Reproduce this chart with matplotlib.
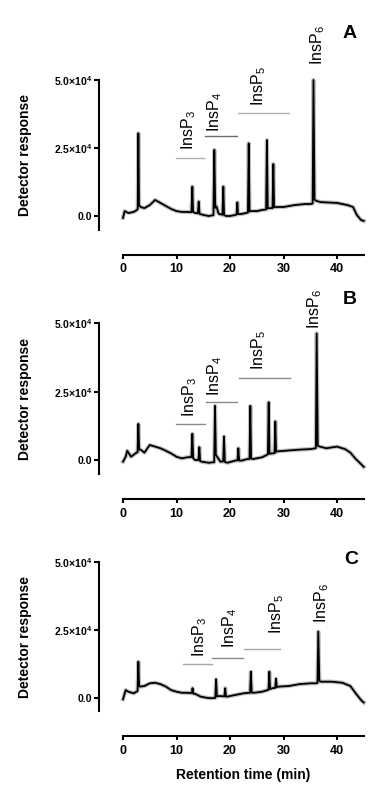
import numpy as np
import matplotlib
matplotlib.use("Agg")
import matplotlib.pyplot as plt

plt.rcParams['font.family'] = ['Liberation Sans', 'DejaVu Sans']
plt.rcParams['mathtext.default'] = 'regular'

# --- chromatogram traces (time in min, detector response) ---
time_a = [0.0, 0.3, 1.0, 2.0, 2.6, 2.75, 2.87, 3.0, 3.3, 4.0, 5.0, 6.0, 7.0, 8.0, 9.0, 10.0,
          11.0, 12.0, 12.8, 12.96, 13.1, 13.5, 14.0, 14.15, 14.3, 15.0, 16.0, 16.9, 17.07,
          17.25, 17.5, 17.8, 18.0, 18.6, 18.75, 18.9, 19.3, 20.0, 21.0, 21.22, 21.37, 21.5,
          22.0, 23.0, 23.35, 23.5, 23.65, 24.0, 25.0, 26.0, 26.75, 26.9, 27.05, 27.5, 27.95,
          28.1, 28.25, 28.6, 30.0, 32.0, 34.0, 35.0, 35.45, 35.6, 35.8, 36.2, 37.0, 40.0,
          42.0, 43.0, 43.7, 44.5, 45.0]
resp_a = [-700, 1800, 1100, 1500, 2200, 2600, 30400, 4000, 3300, 2900, 4000, 5900, 4800, 3700,
          2600, 1800, 1500, 1500, 1400, 10800, 1500, 1100, 1000, 5300, 800, 400, 0, 300, 24300,
          3000, 3500, 1200, 700, 500, 10800, 300, 0, 0, 400, 500, 5000, 700, 700, 1100, 1300,
          26700, 1700, 1800, 1800, 2200, 2400, 27900, 2800, 2900, 2900, 19100, 3200, 3300, 3300,
          4000, 4400, 4400, 4600, 50000, 6000, 5500, 5100, 4800, 4000, 3300, 400, -1500, -1800]

time_b = [0.0, 0.5, 0.8, 1.5, 2.5, 2.72, 2.87, 3.02, 3.3, 4.0, 5.0, 6.0, 7.0, 8.0, 9.0, 10.0,
          11.0, 12.0, 12.8, 12.96, 13.12, 13.5, 14.1, 14.27, 14.42, 14.7, 16.0, 17.05, 17.2,
          17.35, 17.6, 18.2, 18.73, 18.88, 19.03, 19.5, 21.0, 21.41, 21.56, 21.71, 22.2, 23.3,
          23.65, 23.8, 23.95, 24.4, 26.0, 27.0, 27.08, 27.23, 27.38, 27.8, 28.32, 28.47, 28.62,
          29.0, 31.0, 33.0, 35.0, 36.0, 36.05, 36.2, 36.4, 36.8, 38.0, 40.0, 41.5, 42.5, 43.5,
          44.5, 45.0]
resp_b = [-600, 1200, 3400, 1200, 2700, 2800, 13200, 3800, 3800, 2700, 5500, 4900, 4300, 3400,
          2400, 1200, 600, 1000, 1100, 9600, 600, 0, 0, 4700, -400, -600, -1000, -800, 19800,
          2000, 1200, -600, -500, 8600, -700, -1000, -200, -100, 4300, -200, -200, 400, 400,
          19800, 500, 400, 1000, 2000, 2100, 21100, 2300, 2400, 2500, 14100, 3000, 3200, 3500,
          3800, 4000, 4300, 4400, 46300, 5200, 4900, 4300, 4900, 4000, 2700, 400, -1500, -2500]

time_c = [0.0, 0.5, 1.0, 2.0, 2.5, 2.72, 2.87, 3.02, 3.3, 4.0, 5.0, 6.0, 7.0, 8.0, 9.0, 10.0,
          11.0, 12.0, 12.85, 13.0, 13.15, 13.5, 14.5, 15.5, 16.5, 17.25, 17.4, 17.55, 18.0,
          18.95, 19.1, 19.25, 19.5, 21.0, 22.5, 23.5, 23.75, 23.9, 24.05, 24.5, 26.0, 27.0,
          27.2, 27.35, 27.5, 27.9, 28.45, 28.6, 28.75, 29.2, 31.0, 33.0, 35.0, 36.0, 36.35,
          36.5, 36.7, 37.0, 39.0, 41.0, 42.5, 43.5, 44.5, 45.0]
resp_c = [-600, 2800, 2200, 1600, 2200, 2400, 13300, 4200, 4100, 4300, 5300, 5500, 5000, 4100,
          2800, 2200, 1800, 1800, 1700, 3500, 1500, 1400, 400, 0, -200, -100, 6800, 500, 600,
          500, 3500, 400, 400, 1000, 1600, 1800, 1800, 9600, 1900, 1800, 2200, 2800, 2900, 9600,
          3200, 3500, 3600, 7000, 3900, 4100, 4300, 5000, 5300, 5300, 5400, 24400, 6200, 5900,
          5900, 5500, 4300, 1600, -900, -1800]

# --- peak group labels: text (x, bottom y) and bracket line (x start, x end, y) ---
labels = ['InsP$_3$', 'InsP$_4$', 'InsP$_5$', 'InsP$_6$']
label_x_a = [12.2, 17.2, 25.4, 36.3]
label_y_a = [24300, 30900, 40400, 55500]
line_x0_a = [9.9, 15.3, 21.5]
line_x1_a = [15.1, 21.3, 31.1]
line_y_a = [21200, 29400, 38000]

label_x_b = [12.5, 17.2, 25.3, 35.9]
label_y_b = [15900, 23300, 32800, 47800]
line_x0_b = [9.9, 15.5, 21.7]
line_x1_b = [15.3, 21.4, 31.2]
line_y_b = [13100, 21300, 30000]

label_x_c = [14.4, 20.0, 28.7, 37.2]
label_y_c = [15100, 18200, 23500, 27600]
line_x0_c = [11.2, 16.7, 22.6]
line_x1_c = [16.7, 22.4, 29.3]
line_y_c = [12300, 14500, 18000]

ytick_vals = [0, 25000, 50000]
ytick_text = ['0.0', '2.5×10$^4$', '5.0×10$^4$']
xtick_vals = [0, 10, 20, 30, 40]

W, H = 386, 788
fig = plt.figure(figsize=(W / 100, H / 100), dpi=100)


def px_rect(left, top, right, bottom):
    return [left / W, 1 - bottom / H, (right - left) / W, (bottom - top) / H]


panels = [
    ('A', time_a, resp_a, label_x_a, label_y_a, line_x0_a, line_x1_a, line_y_a,
     ['#b0b0b0', '#6e6e6e', '#b0b0b0'], (80, 229.6), (350, 34)),
    ('B', time_b, resp_b, label_x_b, label_y_b, line_x0_b, line_x1_b, line_y_b,
     ['#8a8a8a', '#8a8a8a', '#8a8a8a'], (323.3, 473.7), (350, 299)),
    ('C', time_c, resp_c, label_x_c, label_y_c, line_x0_c, line_x1_c, line_y_c,
     ['#a8a8a8', '#8a8a8a', '#a8a8a8'], (562.3, 711.2), (351, 559)),
]

for (letter, t, r, lx, ly, x0, x1, ly_line, line_cols, (top, bot), (lpx, lpy)) in panels:
    ax = fig.add_axes(px_rect(123, top, 363.75, bot))
    # fuzzy halo (detector noise look) + trace
    ax.plot(t, r, color='0.45', lw=3.0, alpha=0.45, clip_on=False)
    ax.plot(t, r, color='black', lw=1.3, clip_on=False)

    for i in range(3):
        ax.plot([x0[i], x1[i]], [ly_line[i], ly_line[i]], color=line_cols[i], lw=1.0)
    for i, lab in enumerate(labels):
        ax.text(lx[i], ly[i], lab, rotation=90, ha='center', va='bottom',
                fontsize=11.5, clip_on=False)

    ax.set_xlim(0, 45)
    ax.set_ylim(-5000, 50000)
    ax.spines['top'].set_visible(False)
    ax.spines['right'].set_visible(False)
    ax.spines['left'].set_position(('outward', 17.3))
    ax.spines['bottom'].set_position(('outward', 18))
    for s in ('left', 'bottom'):
        ax.spines[s].set_linewidth(1.5)

    ax.set_yticks(ytick_vals)
    ax.set_yticklabels(ytick_text, fontsize=7.5, fontweight='bold')
    ax.set_xticks(xtick_vals)
    ax.set_xticklabels([str(v) for v in xtick_vals], fontsize=9, fontweight='bold')
    ax.tick_params(axis='y', length=3.6, width=1.5, pad=1.2)
    ax.tick_params(axis='x', length=2.9, width=1.5, pad=3.5)

    fig.text(25 / W, 1 - ((top + bot) / 2) / H, 'Detector response', rotation=90,
             ha='center', va='center', fontsize=10, fontweight='bold')
    fig.text(lpx / W, 1 - lpy / H, letter, ha='center', va='center',
             fontsize=14, fontweight='bold')

fig.text(243.5 / W, 1 - 775 / H, 'Retention time (min)', ha='center', va='center',
         fontsize=10, fontweight='bold')

plt.savefig('out.png', dpi=100)
plt.close()
